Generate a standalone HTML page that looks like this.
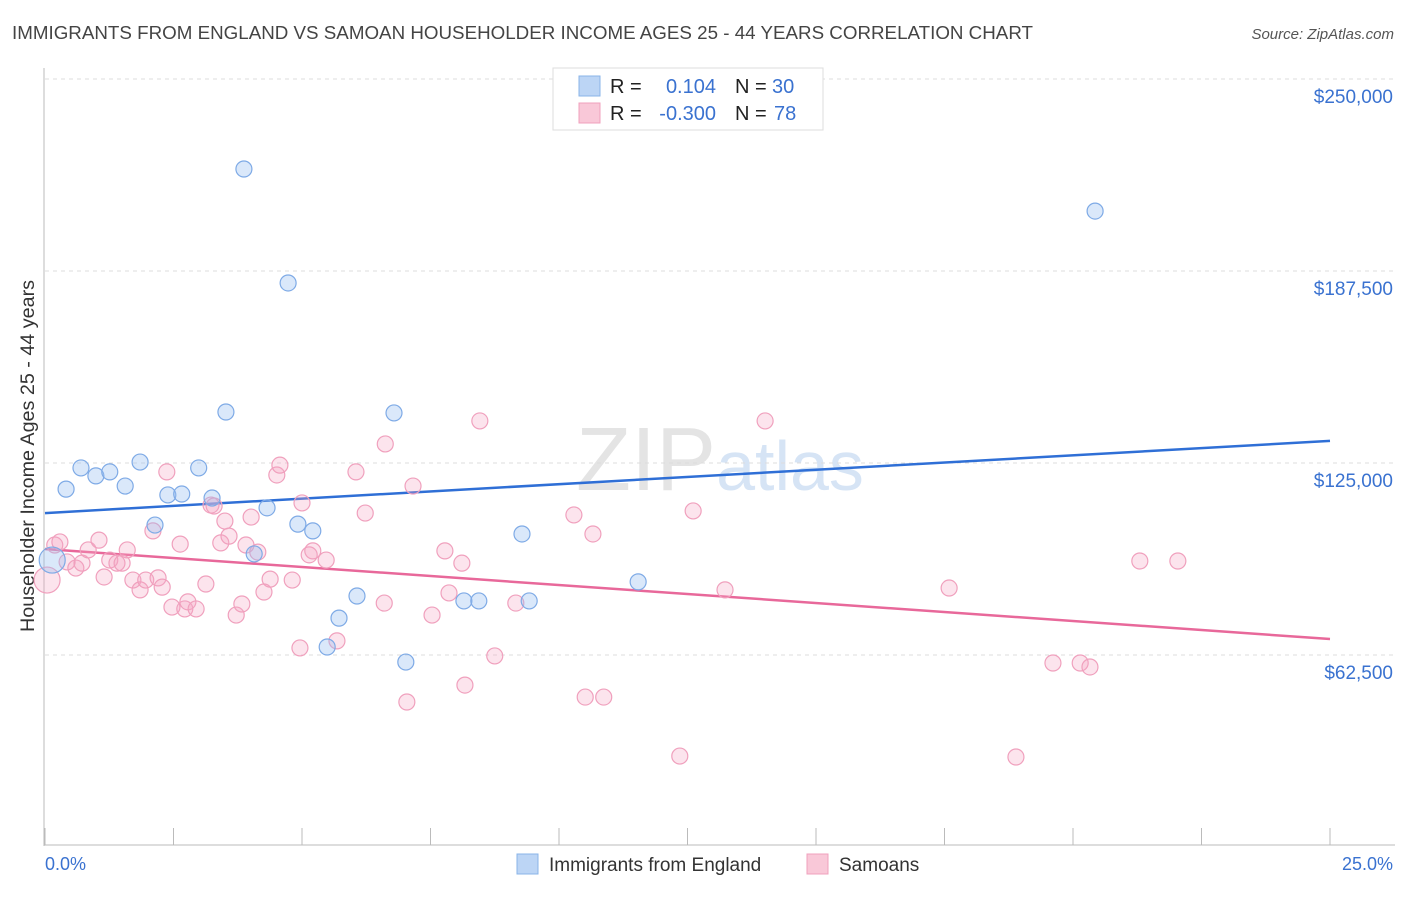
<!DOCTYPE html>
<html><head><meta charset="utf-8"><style>
body{margin:0;background:#fff;font-family:"Liberation Sans",sans-serif;}
svg text{font-family:"Liberation Sans",sans-serif;}
</style></head><body>
<svg id="chart" width="1406" height="892" xmlns="http://www.w3.org/2000/svg">
<text x="12" y="39" font-size="18" fill="#444" textLength="1021" lengthAdjust="spacingAndGlyphs">IMMIGRANTS FROM ENGLAND VS SAMOAN HOUSEHOLDER INCOME AGES 25 - 44 YEARS CORRELATION CHART</text>
<text x="1394" y="39" font-size="15" fill="#555" text-anchor="end" font-style="italic">Source: ZipAtlas.com</text>
<text x="720" y="490" font-size="90" fill="#e4e4e4" text-anchor="middle" font-family="Liberation Serif">ZIP<tspan fill="#d6e4f5" font-family="Liberation Sans" font-size="70">atlas</tspan></text>
<text transform="translate(34,456) rotate(-90)" font-size="19" fill="#333" text-anchor="middle" textLength="352" lengthAdjust="spacingAndGlyphs">Householder Income Ages 25 - 44 years</text>
<g id="grid"></g><g id="axes"></g><g id="trends"></g><g id="pts"></g>
<g>
<rect x="553" y="68" width="270" height="62" fill="#fff" stroke="#ddd"/>
<rect x="579" y="76" width="21" height="20" fill="#bcd5f5" stroke="#8ab4e8"/>
<rect x="579" y="103" width="21" height="20" fill="#f9c8d8" stroke="#f0a0bd"/>
<text x="610" y="93" font-size="20" fill="#222">R =</text><text x="716" y="93" font-size="20" fill="#3a72d0" text-anchor="end">0.104</text>
<text x="735" y="93" font-size="20" fill="#222">N =</text><text x="772" y="93" font-size="20" fill="#3a72d0">30</text>
<text x="610" y="120" font-size="20" fill="#222">R =</text><text x="716" y="120" font-size="20" fill="#3a72d0" text-anchor="end">-0.300</text>
<text x="735" y="120" font-size="20" fill="#222">N =</text><text x="774" y="120" font-size="20" fill="#3a72d0">78</text>
</g>
<g>
<rect x="517" y="854" width="21" height="20" fill="#bcd5f5" stroke="#8ab4e8"/>
<text x="549" y="871" font-size="19" fill="#333">Immigrants from England</text>
<rect x="807" y="854" width="21" height="20" fill="#f9c8d8" stroke="#f0a0bd"/>
<text x="839" y="871" font-size="19" fill="#333">Samoans</text>
</g>
<text x="45" y="870" font-size="18" fill="#3a72d0">0.0%</text>
<text x="1393" y="870" font-size="18" fill="#3a72d0" text-anchor="end">25.0%</text>
</svg>
<script>
const yTicks=[62500,125000,187500,250000];
const yTickLabels=["$62,500","$125,000","$187,500","$250,000"];
const xTicks=[0,2.5,5,7.5,10,12.5,15,17.5,20,22.5,25];
const engX=[0.14,0.41,0.70,0.99,1.26,1.56,1.85,2.14,2.39,2.66,2.99,3.25,3.52,3.87,4.07,4.32,4.73,4.92,5.21,5.49,5.72,6.07,6.79,7.02,8.15,8.44,9.28,9.42,11.54,20.43];
const engY=[93.4,116.5,123.4,120.8,122.1,117.5,125.3,104.8,114.6,114.9,123.4,113.6,141.6,220.7,95.4,110.4,183.6,105.1,102.9,65.1,74.5,81.7,141.3,60.2,80.1,80.1,101.9,80.1,86.3,207.0];
const samX=[0.04,0.19,0.29,0.43,0.60,0.72,0.84,1.05,1.15,1.26,1.40,1.50,1.60,1.71,1.85,1.96,2.10,2.20,2.28,2.37,2.47,2.63,2.72,2.78,2.94,3.13,3.23,3.29,3.42,3.50,3.58,3.72,3.83,3.91,4.01,4.14,4.26,4.38,4.51,4.57,4.81,4.96,5.00,5.14,5.21,5.47,5.68,6.05,6.23,6.60,6.62,7.04,7.16,7.53,7.78,7.86,8.11,8.17,8.46,8.75,9.16,10.29,10.51,10.66,10.87,12.35,12.61,13.23,14.01,17.59,18.89,19.61,20.14,20.33,21.30,22.04];
const samY=[86.9,98.3,99.3,92.8,90.8,92.4,96.7,99.9,87.9,93.4,92.4,92.4,96.7,86.9,83.7,86.9,102.9,87.6,84.6,122.1,78.1,98.6,77.5,79.8,77.5,85.6,111.3,111.0,99.0,106.1,101.2,75.5,79.1,98.3,107.4,96.0,83.0,87.2,121.1,124.3,86.9,64.8,112.0,95.1,96.4,93.4,67.1,122.1,108.7,79.4,131.2,47.2,117.5,75.5,96.4,82.7,92.4,52.7,138.7,62.2,79.4,108.1,48.8,101.9,48.8,29.6,109.4,83.7,138.7,84.3,29.3,59.9,59.9,58.6,93.1,93.1];
const engTrend=[108.7,132.2];
const samTrend=[97.0,67.7];
const NS="http://www.w3.org/2000/svg";
const X=p=>45+p*1285/25;
const Y=k=>847-k*1000*192/62500;
function mk(t,a,p){const e=document.createElementNS(NS,t);for(const k in a)e.setAttribute(k,a[k]);p.appendChild(e);return e;}
const grid=document.getElementById('grid'),axes=document.getElementById('axes'),tr=document.getElementById('trends'),pts=document.getElementById('pts');
yTicks.forEach((v,i)=>{const y=Y(v/1000);
const l=mk('line',{x1:45,x2:1395,y1:y,y2:y,stroke:'#ddd','stroke-dasharray':'4,4'},grid);


const t=mk('text',{x:1393,y:y+24,'font-size':19,fill:'#3a72d0','text-anchor':'end'},grid);t.textContent=yTickLabels[i];

});
mk('line',{x1:44,x2:44,y1:68,y2:846,stroke:'#bbb'},axes);
mk('line',{x1:44,x2:1395,y1:845,y2:845,stroke:'#bbb'},axes);
xTicks.forEach(p=>{const t=mk('line',{x1:X(p),x2:X(p),y1:828,y2:845,stroke:'#bbb'},axes);

});
const bl=mk('line',{x1:X(0),x2:X(25),y1:Y(engTrend[0]),y2:Y(engTrend[1]),stroke:'#2f6fd6','stroke-width':2.5},tr);


const pl=mk('line',{x1:X(0),x2:X(25),y1:Y(samTrend[0]),y2:Y(samTrend[1]),stroke:'#e8689a','stroke-width':2.5},tr);


samX.forEach((x,i)=>{const c=mk('circle',{cx:X(x),cy:Y(samY[i]),r:i==0?13:8,fill:'rgba(245,165,195,0.3)',stroke:'#f0a0bd','stroke-width':1.2},pts);

});
engX.forEach((x,i)=>{const c=mk('circle',{cx:X(x),cy:Y(engY[i]),r:i==0?13:8,fill:'rgba(150,190,240,0.35)',stroke:'#7eaae6','stroke-width':1.2},pts);

});
</script>
</body></html>
